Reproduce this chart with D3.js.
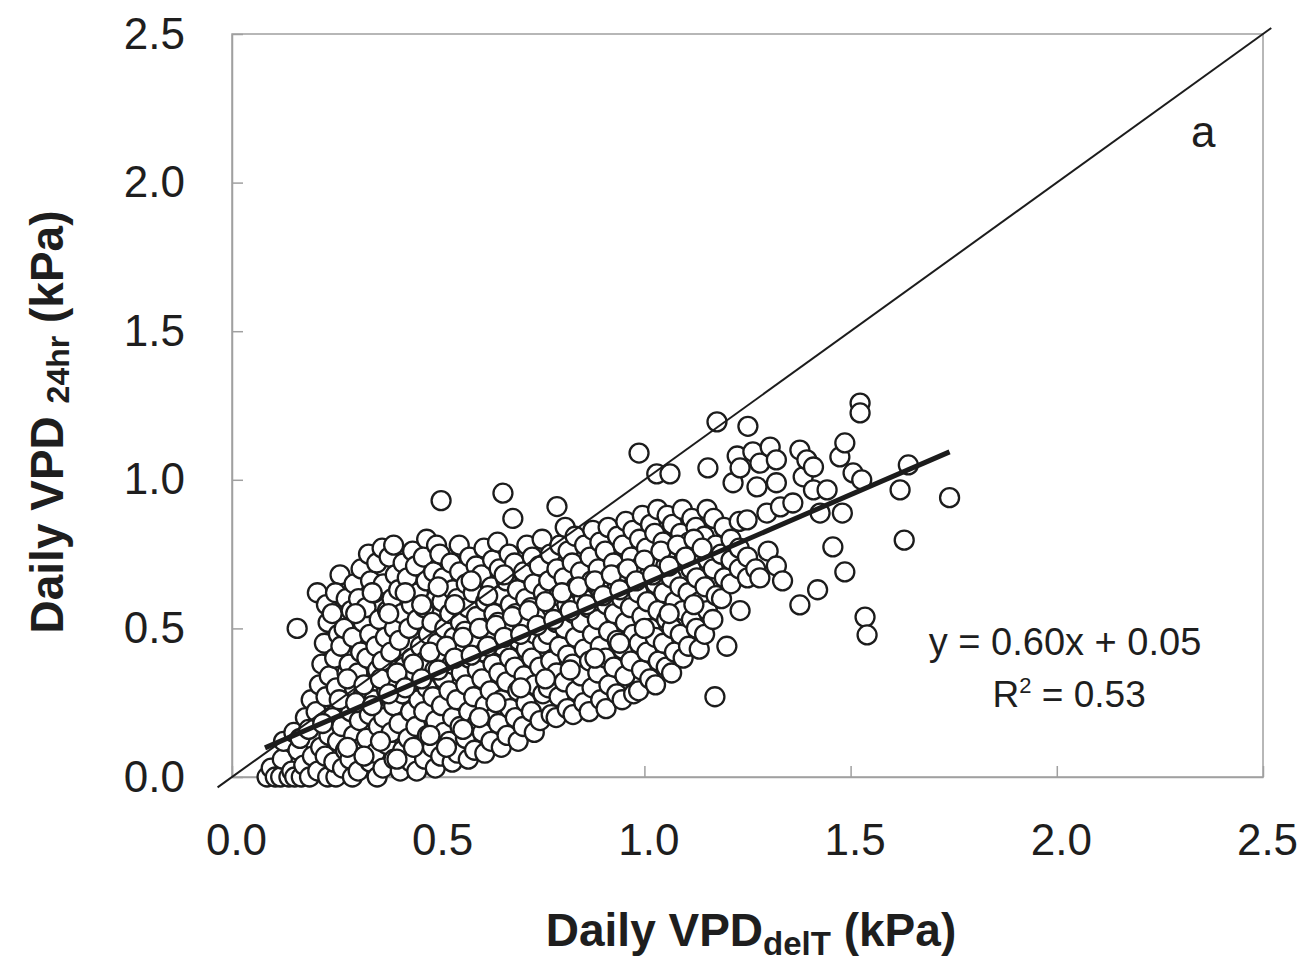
<!DOCTYPE html>
<html><head><meta charset="utf-8">
<script src="https://cdn.jsdelivr.net/npm/d3@7"></script>
<style>
html,body{margin:0;padding:0;background:#fff;}
svg{display:block;}
text{font-family:"Liberation Sans",Arial,Helvetica,sans-serif;fill:#1e1e1e;}
</style></head>
<body>
<svg id="chart" width="1304" height="961"></svg>
<script>
// ---- data ----
const xTicks = [0.0, 0.5, 1.0, 1.5, 2.0, 2.5];
const yTicks = [0.0, 0.5, 1.0, 1.5, 2.0, 2.5];
const tickLabels = ["0.0", "0.5", "1.0", "1.5", "2.0", "2.5"];

// Daily VPD_delT (x)
const vpdDelT = [
 0.085,0.095,0.105,0.118,0.122,0.125,0.138,0.145,0.158,0.152,0.160,0.150,
 0.168,0.174,0.165,0.178,
 0.188,0.195,0.186,0.192,
 0.208,0.215,0.204,0.212,0.218,0.207,
 0.232,0.226,0.235,0.228,0.236,0.224,0.233,0.229,
 0.252,0.247,0.256,0.244,0.253,0.249,0.258,0.243,0.262,0.251,
 0.268,0.275,0.266,0.273,0.279,0.264,0.272,0.277,
 0.292,0.286,0.295,0.288,0.297,0.284,0.293,0.289,0.296,
 0.306,0.314,0.309,0.316,0.305,0.312,0.318,0.307,0.313,
 0.335,0.326,0.333,0.338,0.327,0.334,0.325,0.336,0.331,
 0.352,0.347,0.355,0.344,0.353,0.349,0.357,0.345,0.351,0.364,
 0.366,0.374,0.368,0.375,0.364,0.372,0.377,0.367,0.381,
 0.393,0.386,0.392,0.398,0.385,0.394,0.388,0.396,0.392,
 0.408,0.414,0.405,0.413,0.417,0.406,0.412,0.404,0.415,
 0.434,0.427,0.433,0.426,0.436,0.429,0.435,0.425,0.438,
 0.448,0.455,0.446,0.453,0.444,0.457,0.449,0.452,0.445,0.472,
 0.467,0.474,0.465,0.473,0.468,0.476,0.466,0.471,0.464,
 0.493,0.486,0.494,0.487,0.492,0.498,0.485,0.495,0.489,0.496,
 0.506,0.514,0.508,0.513,0.505,0.516,0.509,0.512,0.504,0.507,
 0.534,0.527,0.535,0.526,0.533,0.538,0.528,0.536,0.531,
 0.547,0.553,0.545,0.556,0.548,0.554,0.546,0.552,0.551,
 0.573,0.566,0.574,0.567,0.575,0.565,0.572,0.568,0.576,
 0.588,0.594,0.586,0.595,0.589,0.593,0.585,0.592,
 0.613,0.607,0.614,0.606,0.612,0.608,0.615,0.605,0.611,
 0.628,0.634,0.626,0.633,0.627,0.635,0.629,0.632,
 0.653,0.646,0.654,0.647,0.655,0.645,0.652,0.648,0.644,0.657,
 0.667,0.674,0.666,0.673,0.668,0.675,0.665,0.672,0.681,
 0.694,0.687,0.693,0.686,0.695,0.688,0.692,0.685,
 0.706,0.713,0.708,0.714,0.705,0.712,0.707,0.715,
 0.733,0.726,0.734,0.727,0.735,0.725,0.732,0.728,
 0.747,0.754,0.746,0.753,0.748,0.755,0.745,0.752,
 0.774,0.767,0.773,0.766,0.775,0.768,0.772,
 0.786,0.793,0.787,0.794,0.785,0.792,0.788,0.795,0.788,
 0.813,0.806,0.814,0.807,0.812,0.805,0.815,0.808,
 0.827,0.834,0.826,0.833,0.828,0.835,0.825,0.832,
 0.853,0.846,0.854,0.847,0.852,0.845,0.855,
 0.866,0.873,0.867,0.874,0.865,0.872,0.868,0.875,
 0.894,0.887,0.893,0.886,0.895,0.888,0.892,
 0.907,0.914,0.906,0.913,0.908,0.915,0.905,0.912,
 0.933,0.926,0.934,0.927,0.932,0.925,0.935,
 0.946,0.953,0.947,0.954,0.945,0.952,0.948,0.955,
 0.974,0.967,0.973,0.966,0.975,0.968,0.972,
 0.986,0.993,0.987,0.994,0.985,0.992,0.988,0.995,0.987,
 1.013,1.006,1.014,1.007,1.012,1.005,1.015,
 1.027,1.034,1.026,1.033,1.028,1.035,1.025,1.032,1.030,
 1.053,1.046,1.054,1.047,1.052,1.045,1.055,1.062,
 1.066,1.073,1.067,1.074,1.065,1.072,1.068,
 1.094,1.087,1.093,1.086,1.095,1.088,1.092,
 1.107,1.114,1.106,1.113,1.108,1.115,
 1.133,1.126,1.134,1.127,1.132,1.125,
 1.146,1.153,1.147,1.154,1.145,1.152,1.154,
 1.171,1.166,1.174,1.167,1.173,1.168,1.176,
 1.187,1.194,1.186,1.193,1.200,
 1.21,1.21,1.21,1.215,
 1.23,1.23,1.232,1.23,1.225,1.232,
 1.25,1.25,1.249,1.251,
 1.27,1.273,1.263,1.28,1.28,
 1.30,1.297,1.305,1.32,1.32,1.32,1.33,1.335,
 1.36,1.377,1.377,1.385,1.394,1.41,1.41,1.42,1.426,1.443,
 1.457,1.474,1.48,1.486,1.486,1.506,1.523,1.523,1.527,1.535,1.54,
 1.62,1.63,1.64,1.74,
 // denser core along the fit line
 0.22,0.26,0.28,0.30,0.32,0.34,0.36,0.38,0.40,0.42,0.44,0.46,0.48,0.50,0.52,0.54,
 0.56,0.58,0.60,0.62,0.64,0.66,0.68,0.70,0.72,0.74,0.76,0.78,0.80,0.82,0.84,0.86,
 0.88,0.90,0.92,0.94,0.96,0.98,1.00,1.02,1.04,1.06,1.08,1.10,1.12,1.14,
 0.30,0.34,0.38,0.42,0.46,0.50,0.54,0.58,0.62,0.66,
 0.60,0.64,0.70,0.76,0.82,0.88,0.94,1.00,1.06,1.12,
 0.28,0.32,0.36,0.40,0.44,0.48,0.52,0.56
];

// Daily VPD_24hr (y), same order
const vpd24hr = [
 0.00,0.03,0.00,0.00,0.06,0.12,0.00,0.02,0.50,0.00,0.09,0.15,
 0.00,0.04,0.13,0.20,
 0.00,0.07,0.16,0.26,
 0.02,0.10,0.22,0.31,0.38,0.62,
 0.00,0.07,0.14,0.27,0.34,0.45,0.52,0.58,
 0.00,0.05,0.12,0.20,0.30,0.40,0.48,0.55,0.68,0.62,
 0.03,0.09,0.17,0.25,0.35,0.44,0.50,0.60,
 0.00,0.06,0.14,0.22,0.30,0.38,0.47,0.56,0.65,
 0.02,0.10,0.19,0.27,0.35,0.42,0.52,0.60,0.70,
 0.05,0.13,0.21,0.31,0.40,0.48,0.57,0.66,0.75,
 0.00,0.08,0.17,0.26,0.36,0.44,0.53,0.62,0.72,0.77,
 0.03,0.11,0.20,0.29,0.39,0.47,0.56,0.65,0.74,
 0.06,0.15,0.24,0.33,0.42,0.50,0.60,0.68,0.78,
 0.02,0.09,0.18,0.28,0.37,0.46,0.55,0.63,0.72,
 0.05,0.13,0.22,0.31,0.40,0.50,0.58,0.67,0.76,
 0.02,0.10,0.17,0.26,0.35,0.44,0.53,0.62,0.71,0.80,
 0.06,0.14,0.22,0.30,0.39,0.48,0.57,0.66,0.74,
 0.03,0.10,0.19,0.27,0.36,0.45,0.52,0.60,0.69,0.78,
 0.07,0.15,0.24,0.33,0.41,0.50,0.59,0.67,0.75,0.93,
 0.05,0.12,0.20,0.29,0.38,0.47,0.55,0.63,0.72,
 0.08,0.17,0.26,0.35,0.43,0.52,0.60,0.69,0.78,
 0.06,0.13,0.22,0.31,0.40,0.49,0.57,0.65,0.74,
 0.09,0.18,0.27,0.36,0.45,0.54,0.62,0.71,
 0.08,0.15,0.24,0.33,0.42,0.50,0.59,0.68,0.77,
 0.12,0.20,0.29,0.38,0.47,0.55,0.64,0.73,
 0.10,0.18,0.26,0.35,0.44,0.52,0.61,0.70,0.79,0.955,
 0.14,0.23,0.32,0.40,0.49,0.58,0.66,0.75,0.87,
 0.12,0.20,0.29,0.37,0.46,0.55,0.63,0.72,
 0.17,0.25,0.34,0.43,0.51,0.60,0.69,0.78,
 0.15,0.22,0.31,0.40,0.48,0.57,0.65,0.74,
 0.19,0.28,0.37,0.45,0.54,0.62,0.71,0.80,
 0.21,0.30,0.39,0.48,0.57,0.66,0.75,
 0.20,0.27,0.35,0.44,0.52,0.61,0.70,0.78,0.91,
 0.23,0.32,0.41,0.50,0.58,0.67,0.76,0.84,
 0.21,0.29,0.38,0.47,0.55,0.64,0.72,0.81,
 0.25,0.34,0.43,0.52,0.60,0.69,0.78,
 0.22,0.30,0.39,0.48,0.57,0.66,0.74,0.83,
 0.26,0.35,0.44,0.53,0.62,0.70,0.79,
 0.23,0.31,0.40,0.49,0.58,0.67,0.76,0.84,
 0.28,0.37,0.46,0.55,0.63,0.72,0.81,
 0.26,0.34,0.43,0.52,0.60,0.69,0.78,0.86,
 0.28,0.39,0.48,0.57,0.65,0.74,0.83,
 0.29,0.36,0.45,0.54,0.62,0.71,0.80,0.88,1.09,
 0.33,0.42,0.50,0.59,0.68,0.77,0.85,
 0.31,0.39,0.47,0.56,0.65,0.73,0.82,0.90,1.02,
 0.37,0.45,0.53,0.62,0.71,0.79,0.88,1.02,
 0.35,0.42,0.50,0.59,0.67,0.76,0.85,
 0.40,0.48,0.56,0.64,0.73,0.82,0.90,
 0.44,0.53,0.62,0.70,0.79,0.87,
 0.43,0.50,0.59,0.67,0.76,0.84,
 0.48,0.56,0.64,0.73,0.81,0.90,1.04,
 0.27,0.53,0.61,0.70,0.78,0.87,1.195,
 0.60,0.67,0.75,0.84,0.44,
 0.65,0.73,0.80,0.99,
 0.70,0.77,0.56,0.86,1.08,1.04,
 0.67,0.74,0.865,1.18,
 0.70,0.976,1.094,0.67,1.056,
 0.76,0.888,1.11,0.99,1.067,0.71,0.909,0.66,
 0.922,1.10,0.579,1.01,1.067,1.043,0.966,0.63,0.888,0.966,
 0.774,1.077,0.888,1.124,0.69,1.023,1.258,1.225,1.00,0.538,0.478,
 0.966,0.797,1.05,0.94,
 // denser core along the fit line
 0.18,0.26,0.33,0.25,0.31,0.24,0.33,0.28,0.35,0.30,0.38,0.33,0.42,0.36,0.44,0.40,
 0.47,0.41,0.50,0.44,0.51,0.47,0.54,0.48,0.56,0.51,0.59,0.53,0.62,0.56,0.64,0.58,
 0.66,0.61,0.68,0.63,0.70,0.66,0.73,0.68,0.76,0.71,0.78,0.74,0.80,0.77,
 0.55,0.62,0.55,0.62,0.58,0.64,0.58,0.66,0.61,0.68,
 0.20,0.25,0.30,0.33,0.36,0.40,0.45,0.50,0.55,0.58,
 0.10,0.07,0.12,0.06,0.10,0.14,0.10,0.16
];

const eqLine1 = "y = 0.60x + 0.05";
const fitSlope = 0.60, fitIntercept = 0.05;
const fitRange = [0.08, 1.74];
const oneToOne = [-0.035, 2.52];

// ---- drawing ----
const svg = d3.select("#chart");
const x = d3.scaleLinear().domain([0, 2.5]).range([232, 1263]);
const y = d3.scaleLinear().domain([0, 2.5]).range([777, 34]);

// frame
svg.append("rect")
  .attr("x", x(0)).attr("y", y(2.5))
  .attr("width", x(2.5) - x(0)).attr("height", y(0) - y(2.5))
  .attr("fill", "none").attr("stroke", "#a0a0a0").attr("stroke-width", 1.5);

// axes with inward ticks
const xAxis = d3.axisBottom(x).tickValues(xTicks)
  .tickFormat((d, i) => tickLabels[i]).tickSizeInner(-11).tickSizeOuter(0).tickPadding(47);
const gx = svg.append("g").attr("transform", `translate(0,${y(0)})`).call(xAxis);
gx.select(".domain").attr("stroke", "#a0a0a0").attr("stroke-width", 1.5);
gx.selectAll(".tick line").attr("stroke", "#a0a0a0").attr("stroke-width", 1.5);
gx.selectAll(".tick text").attr("font-size", 44).attr("fill", "#1e1e1e").attr("dx", 4)
  .attr("font-family", '"Liberation Sans",Arial,sans-serif');

const yAxis = d3.axisLeft(y).tickValues(yTicks)
  .tickFormat((d, i) => tickLabels[i]).tickSizeInner(-11).tickSizeOuter(0).tickPadding(47);
const gy = svg.append("g").attr("transform", `translate(${x(0)},0)`).call(yAxis);
gy.select(".domain").attr("stroke", "#a0a0a0").attr("stroke-width", 1.5);
gy.selectAll(".tick line").attr("stroke", "#a0a0a0").attr("stroke-width", 1.5);
gy.selectAll(".tick text").attr("font-size", 44).attr("fill", "#1e1e1e")
  .attr("font-family", '"Liberation Sans",Arial,sans-serif');

// points
const pts = vpdDelT.map((d, i) => [d, vpd24hr[i]]);
svg.append("g").selectAll("circle").data(pts).join("circle")
  .attr("cx", d => x(d[0])).attr("cy", d => y(d[1])).attr("r", 9.5)
  .attr("fill", "#fff").attr("stroke", "#1c1c1c").attr("stroke-width", 2.3);

// 1:1 line
svg.append("line")
  .attr("x1", x(oneToOne[0])).attr("y1", y(oneToOne[0]))
  .attr("x2", x(oneToOne[1])).attr("y2", y(oneToOne[1]))
  .attr("stroke", "#1c1c1c").attr("stroke-width", 2);

// regression line
svg.append("line")
  .attr("x1", x(fitRange[0])).attr("y1", y(fitSlope * fitRange[0] + fitIntercept))
  .attr("x2", x(fitRange[1])).attr("y2", y(fitSlope * fitRange[1] + fitIntercept))
  .attr("stroke", "#1c1c1c").attr("stroke-width", 5);

// panel letter
svg.append("text").attr("x", x(2.355)).attr("y", y(2.12)).attr("text-anchor", "middle")
  .attr("font-size", 44).text("a");

// equation
svg.append("text").attr("x", x(2.02)).attr("y", y(0.41)).attr("text-anchor", "middle")
  .attr("font-size", 38).text(eqLine1);
const r2 = svg.append("text").attr("x", x(2.03)).attr("y", y(0.235)).attr("text-anchor", "middle")
  .attr("font-size", 37);
r2.append("tspan").text("R");
r2.append("tspan").attr("font-size", 22).attr("dy", -14).text("2");
r2.append("tspan").attr("dy", 14).text(" = 0.53");

// x title
const xt = svg.append("text").attr("x", 751).attr("y", 946).attr("text-anchor", "middle")
  .attr("font-size", 46).attr("font-weight", "bold");
xt.append("tspan").text("Daily VPD");
xt.append("tspan").attr("font-size", 33).attr("dy", 9).text("delT");
xt.append("tspan").attr("dy", -9).text(" (kPa)");

// y title
const yt = svg.append("text").attr("transform", "translate(63,422) rotate(-90)")
  .attr("text-anchor", "middle").attr("font-size", 46).attr("font-weight", "bold");
yt.append("tspan").text("Daily VPD ");
yt.append("tspan").attr("font-size", 32).attr("dy", 6).text("24hr");
yt.append("tspan").attr("dy", -6).text(" (kPa)");
</script>
</body></html>
